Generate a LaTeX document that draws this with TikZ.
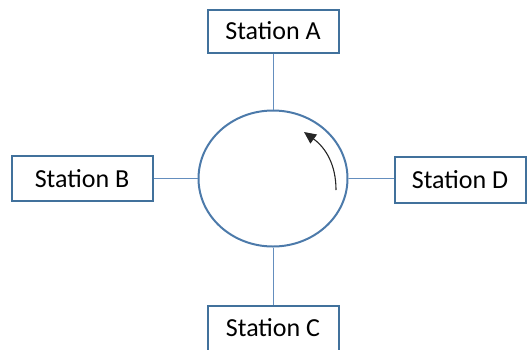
\documentclass[tikz,border=0pt]{standalone}
\usepackage{fontspec}
\setmainfont{Carlito}
\usetikzlibrary{positioning,shapes.geometric,arrows.meta}
\definecolor{boxblue}{RGB}{65,113,156}
\definecolor{ringblue}{RGB}{76,122,170}
\definecolor{lineblue}{RGB}{100,142,190}
\begin{document}
\begin{tikzpicture}[
    x=1pt, y=-1pt,
    station/.style = {draw=boxblue, line width=2pt, fill=white, minimum width=131pt, minimum height=43pt, inner sep=0pt, font=\fontsize{26}{30}\selectfont},
    link/.style = {draw=lineblue, line width=1pt},
    turn/.style = {draw=black!85, line width=1.1pt, -{Triangle[length=12pt,width=11pt]}}
]
    \useasboundingbox (0,0) rectangle (529,349);

    % Anneau central
    \node[ellipse, draw=ringblue, line width=2pt, minimum width=149pt, minimum height=136pt, inner sep=0pt] (ring) at (273,178.5) {};

    % Stations
    \node[station] (A) [above=56pt of ring] {Station A};
    \node[station, minimum width=141pt, minimum height=45pt] (B) [left=44pt of ring] {Station B};
    \node[station, minimum height=46pt] (D) [right=45pt of ring, yshift=-1.5pt] {Station D};
    \node[station, minimum height=45pt] (C) [below=57pt of ring] {Station C};

    % Liaisons
    \draw[link] (A) -- (ring);
    \draw[link] (B) -- (ring);
    \draw[link] (ring) -- (D.west |- ring.east);
    \draw[link] (ring) -- (C);

    % Sens de rotation
    \coordinate (turnstart) at (336,190);
    \coordinate (turnend) at (304,132);
    \draw[turn] (turnstart) .. controls (336,165) and (326,148) .. (turnend);

\end{tikzpicture}
\end{document}
